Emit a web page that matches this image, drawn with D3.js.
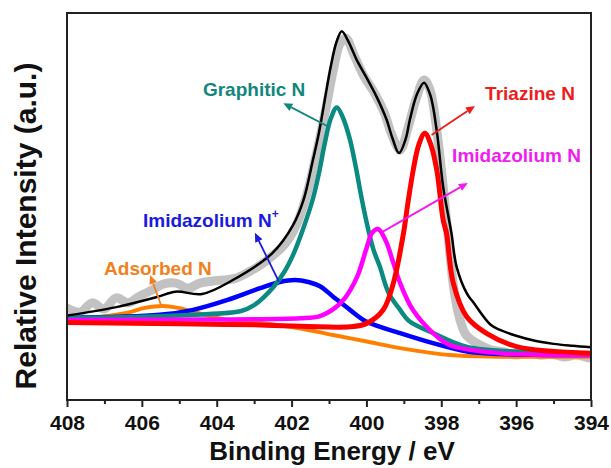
<!DOCTYPE html>
<html>
<head>
<meta charset="utf-8">
<script src="https://cdn.jsdelivr.net/npm/d3@7"></script>
<style>
  body { margin: 0; background: #fff; }
  svg { display: block; }
  text { font-family: Arial, "Liberation Sans", sans-serif; font-weight: bold; }
</style>
</head>
<body>
<svg id="chart" width="611" height="468"></svg>
<script>
// N 1s XPS spectrum: binding energy (eV) vs. relative intensity (a.u.)
const xTicks = [408, 406, 404, 402, 400, 398, 396, 394];
const xMinorTicks = [407, 405, 403, 401, 399, 397, 395];

// measured spectrum
const rawData = [
  [408.00, 23.8], [407.65, 22.7], [407.33, 25.1], [407.01, 23.5], [406.69, 26.4],
  [406.37, 25.1], [406.05, 26.9], [405.73, 28.4], [405.41, 30.0], [405.09, 30.2],
  [404.77, 28.9], [404.45, 30.2], [404.13, 30.7], [403.81, 31.0], [403.48, 31.5],
  [403.16, 33.0], [402.84, 34.8], [402.52, 37.2], [402.20, 40.0], [401.88, 45.0],
  [401.61, 52.5], [401.35, 63.0], [401.08, 75.5], [400.87, 86.0], [400.71, 92.0],
  [400.55, 93.5], [400.33, 89.1], [400.07, 83.7], [399.80, 79.6], [399.53, 74.4],
  [399.32, 68.5], [399.10, 64.6], [398.89, 70.3], [398.68, 77.5], [398.46, 82.7],
  [398.30, 80.1], [398.14, 71.1], [397.98, 58.1], [397.82, 42.6], [397.66, 28.4],
  [397.50, 20.7], [397.34, 16.8], [397.18, 15.5], [396.97, 14.2], [396.65, 12.9],
  [396.32, 12.4], [396.00, 11.6], [395.68, 12.4], [395.36, 11.6], [395.04, 11.9],
  [394.72, 11.1], [394.40, 11.6], [394.08, 10.9]
];

// total fitted envelope
const fitSum = [
  [408.00, 21.8], [406.68, 24.0], [405.60, 26.6], [405.10, 28.0], [404.39, 27.4],
  [403.57, 31.0], [402.52, 37.9], [401.96, 45.2], [401.68, 51.7], [401.43, 62.0],
  [401.27, 69.0], [400.95, 86.3], [400.80, 92.5], [400.66, 95.3], [400.50, 93.0],
  [400.26, 87.9], [400.02, 83.7], [399.73, 78.4], [399.46, 72.4], [399.30, 67.5],
  [399.13, 63.8], [398.95, 67.5], [398.84, 72.4], [398.65, 79.0], [398.46, 82.0],
  [398.30, 79.0], [398.22, 75.8], [398.10, 68.0], [397.95, 55.1], [397.73, 43.2],
  [397.59, 34.4], [397.31, 27.4], [397.15, 25.3], [396.69, 19.5], [396.43, 18.1],
  [396.00, 16.6], [395.50, 15.3], [395.00, 14.5], [394.50, 14.0], [394.00, 13.6]
];

// fitted components
const adsorbedN = [
  [408.00, 20.5], [406.41, 22.5], [405.92, 23.8], [405.44, 24.3], [405.03, 23.8],
  [404.63, 22.8], [403.73, 20.7], [402.84, 19.9], [401.77, 18.5], [400.89, 16.8],
  [399.99, 15.1], [399.10, 13.4], [397.77, 11.6], [396.43, 11.2], [394.00, 11.2]
];
const imidazoliumNplus = [
  [408.00, 21.2], [405.52, 22.0], [404.63, 23.3], [403.73, 25.8], [402.84, 28.9],
  [402.31, 30.5], [401.91, 31.0], [401.55, 30.5], [401.24, 29.4], [400.89, 26.7],
  [400.44, 23.3], [399.99, 20.2], [399.10, 17.3], [398.22, 14.7], [397.31, 12.5],
  [396.43, 11.9], [394.00, 11.6]
];
const graphiticN = [
  [408.00, 21.2], [406.00, 21.5], [404.63, 22.0], [403.35, 23.0], [403.00, 24.5],
  [402.50, 29.0], [402.20, 33.0], [401.96, 37.5], [401.70, 44.0], [401.43, 52.0],
  [401.25, 59.5], [401.12, 66.0], [400.95, 72.8], [400.79, 75.6], [400.63, 73.0],
  [400.44, 67.3], [400.28, 60.0], [400.12, 51.7], [399.95, 44.0], [399.81, 38.8],
  [399.64, 34.4], [399.40, 27.5], [399.10, 23.3], [398.87, 20.5], [398.22, 17.3],
  [397.31, 13.7], [395.75, 12.4], [394.00, 11.9]
];
const imidazoliumN = [
  [408.00, 20.7], [404.45, 20.8], [401.77, 21.1], [401.24, 21.7], [400.84, 23.8],
  [400.57, 26.4], [400.25, 31.8], [400.01, 38.8], [399.85, 43.2], [399.69, 44.2],
  [399.48, 41.1], [399.29, 35.7], [399.10, 30.2], [398.76, 23.3], [398.22, 17.3],
  [397.77, 14.2], [396.43, 12.1], [394.00, 11.6]
];
const triazineN = [
  [408.00, 20.0], [405.00, 19.7], [402.84, 19.4], [400.44, 18.9], [399.99, 19.8],
  [399.55, 23.3], [399.28, 30.2], [399.01, 43.1], [398.89, 51.0], [398.75, 59.4],
  [398.60, 66.0], [398.44, 68.9], [398.28, 66.0], [398.12, 59.4], [397.95, 46.5],
  [397.86, 43.1], [397.68, 30.2], [397.32, 21.5], [396.79, 17.2], [395.99, 13.8],
  [394.00, 12.1]
];

const width = 611, height = 468;
const margin = { left: 67, right: 20, top: 13, bottom: 68 };
const plotW = width - margin.left - margin.right;
const plotH = height - margin.top - margin.bottom;

const svg = d3.select("#chart");
const x = d3.scaleLinear().domain([408, 394]).range([margin.left, margin.left + plotW]);
const y = d3.scaleLinear().domain([0, 100]).range([margin.top + plotH, margin.top]);

const line = d3.line()
  .x(d => x(d[0]))
  .y(d => y(d[1]))
  .curve(d3.curveCatmullRom.alpha(0.5));

const plot = svg.append("g");
plot.append("defs").append("clipPath").attr("id", "clip")
  .append("rect").attr("x", margin.left).attr("y", margin.top)
  .attr("width", plotW).attr("height", plotH);

const curves = plot.append("g").attr("clip-path", "url(#clip)");

// measured data as a broad grey band
curves.append("path").datum(rawData)
  .attr("d", line).attr("fill", "none")
  .attr("stroke", "#c2c2c2").attr("stroke-width", 9)
  .attr("stroke-linejoin", "round").attr("stroke-linecap", "round");

const components = [
  { data: adsorbedN, color: "#ff8000", w: 4 },
  { data: imidazoliumNplus, color: "#0000ff", w: 4.5 },
  { data: graphiticN, color: "#0a8a80", w: 4.5 },
  { data: imidazoliumN, color: "#ff00ff", w: 4.5 },
  { data: triazineN, color: "#ff0000", w: 5 }
];
components.forEach(c => {
  curves.append("path").datum(c.data)
    .attr("d", line).attr("fill", "none")
    .attr("stroke", c.color).attr("stroke-width", c.w)
    .attr("stroke-linejoin", "round");
});

curves.append("path").datum(fitSum)
  .attr("d", line).attr("fill", "none")
  .attr("stroke", "#000").attr("stroke-width", 2.5)
  .attr("stroke-linejoin", "round");

// frame
plot.append("rect")
  .attr("x", margin.left).attr("y", margin.top)
  .attr("width", plotW).attr("height", plotH)
  .attr("fill", "none").attr("stroke", "#222").attr("stroke-width", 2);

// bottom axis: labelled major ticks and unlabelled minor ticks
const xAxis = d3.axisBottom(x).tickValues(xTicks).tickFormat(d3.format("d"))
  .tickSize(7).tickPadding(8);
const gx = svg.append("g").attr("transform", `translate(0,${margin.top + plotH})`).call(xAxis);
gx.select(".domain").remove();
gx.selectAll(".tick line").attr("stroke", "#222").attr("stroke-width", 2);
gx.selectAll(".tick text").attr("font-size", 21).attr("fill", "#111")
  .attr("font-family", 'Arial, "Liberation Sans", sans-serif').attr("font-weight", "bold");

const xMinor = d3.axisBottom(x).tickValues(xMinorTicks).tickSize(4).tickFormat("");
const gxm = svg.append("g").attr("transform", `translate(0,${margin.top + plotH})`).call(xMinor);
gxm.select(".domain").remove();
gxm.selectAll(".tick line").attr("stroke", "#222").attr("stroke-width", 2);

// axis titles
svg.append("text")
  .attr("x", margin.left + plotW / 2 + 3).attr("y", 460)
  .attr("text-anchor", "middle").attr("font-size", 26).attr("fill", "#111")
  .text("Binding Energy / eV");

svg.append("text")
  .attr("transform", `translate(36,226) rotate(-90)`)
  .attr("text-anchor", "middle").attr("font-size", 30).attr("fill", "#111")
  .text("Relative Intensity (a.u.)");

// peak labels with arrows
const annotations = [
  { text: "Graphitic N", color: "#12867c", tx: 403.00, ty: 78.6, anchor: "middle",
    from: [401.05, 70.8], to: [402.22, 76.7] },
  { text: "Triazine N", color: "#ee1c1c", tx: 395.63, ty: 77.5, anchor: "middle",
    from: [398.26, 68.5], to: [397.10, 76.0] },
  { text: "Imidazolium N", color: "#f01cf0", tx: 395.99, ty: 61.5, anchor: "middle",
    from: [399.56, 43.5], to: [397.29, 56.1] },
  { text: "Imidazolium N", sup: "+", color: "#1a1ae0", tx: 405.97, ty: 44.7, anchor: "start",
    from: [402.34, 30.6], to: [402.98, 43.2] },
  { text: "Adsorbed N", color: "#f08020", tx: 405.57, ty: 32.3, anchor: "middle",
    from: [405.47, 24.1], to: [405.78, 32.3] }
];

const ann = svg.append("g");
annotations.forEach(a => {
  const x1 = x(a.from[0]), y1 = y(a.from[1]);
  const x2 = x(a.to[0]), y2 = y(a.to[1]);
  const ang = Math.atan2(y2 - y1, x2 - x1);
  const head = 9, half = 4;
  const bx = x2 - head * Math.cos(ang), by = y2 - head * Math.sin(ang);
  ann.append("line")
    .attr("x1", x1).attr("y1", y1).attr("x2", bx).attr("y2", by)
    .attr("stroke", a.color).attr("stroke-width", 1.8);
  const px = -Math.sin(ang) * half, py = Math.cos(ang) * half;
  ann.append("path")
    .attr("d", `M${x2},${y2}L${bx + px},${by + py}L${bx - px},${by - py}Z`)
    .attr("fill", a.color);
  const t = ann.append("text")
    .attr("x", x(a.tx)).attr("y", y(a.ty))
    .attr("text-anchor", a.anchor).attr("font-size", 19).attr("fill", a.color)
    .text(a.text);
  if (a.sup) {
    t.append("tspan").attr("dy", -9).attr("font-size", 12).text(a.sup);
  }
});
</script>
</body>
</html>
